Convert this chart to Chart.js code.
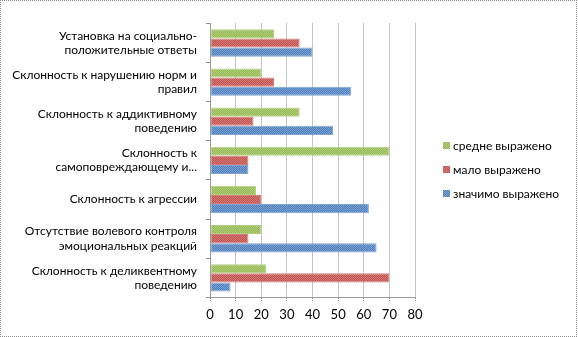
<!DOCTYPE html>
<html>
<head>
<meta charset="utf-8">
<script src="https://cdn.jsdelivr.net/npm/chart.js@4.4.1/dist/chart.umd.min.js"></script>
<style>
  html, body { margin: 0; padding: 0; background: #fff; }
  #wrap { position: relative; width: 578px; height: 337px; }
  #frame {
    position: absolute; left: 0; top: 0; width: 577px; height: 337px;
    box-sizing: border-box; border: 1px dotted #8a8a8a; pointer-events: none;
  }
  canvas { position: absolute; left: 0; top: 0; }
</style>
</head>
<body>
<div id="wrap">
  <canvas id="myChart" width="578" height="337"></canvas>
  <div id="frame"></div>
</div>
<script>
// categories, top to bottom
const categories = [
  ["Установка на социально-", "положительные ответы"],
  ["Склонность к нарушению норм и", "правил"],
  ["Склонность к аддиктивному", "поведению"],
  ["Склонность к", "самоповреждающему и..."],
  "Склонность к агрессии",
  ["Отсутствие волевого контроля", "эмоциональных реакций"],
  ["Склонность к деликвентному", "поведению"]
];

const seriesNames = ["средне выражено", "мало выражено", "значимо выражено"];
const medium = [25, 20, 35, 70, 18, 20, 22];
const low = [35, 25, 17, 15, 20, 15, 70];
const high = [40, 55, 48, 15, 62, 65, 8];

const xTicks = [0, 10, 20, 30, 40, 50, 60, 70, 80];

const baseColors = ["#93b84f", "#c0504d", "#4a7dbb"];
const lightColors = ["#b2cd7e", "#d47b78", "#7ea3d3"];

// small checker texture like the old office fills
function checker(dark, light) {
  const c = document.createElement("canvas");
  c.width = 2; c.height = 2;
  const g = c.getContext("2d");
  g.fillStyle = dark; g.fillRect(0, 0, 2, 2);
  g.fillStyle = light; g.fillRect(0, 0, 1, 1); g.fillRect(1, 1, 1, 1);
  return g.createPattern(c, "repeat");
}

const font = "Lato, 'Open Sans', sans-serif";

const datasets = [medium, low, high].map((vals, i) => ({
  label: seriesNames[i],
  data: vals,
  backgroundColor: checker(baseColors[i], lightColors[i]),
  borderColor: lightColors[i],
  borderWidth: 1,
  borderSkipped: false,
  categoryPercentage: 0.7,
  barPercentage: 1.0
}));

// legend on the right, drawn into the space kept free by layout.padding.right
const sideLegend = {
  id: "sideLegend",
  afterDraw(chart) {
    const ctx = chart.ctx;
    const x = chart.chartArea.right + 28;
    const step = 24;
    const n = chart.data.datasets.length;
    const y0 = chart.height / 2 - step * (n - 1) / 2;
    ctx.save();
    ctx.font = "12px " + font;
    ctx.textBaseline = "middle";
    ctx.textAlign = "left";
    chart.data.datasets.forEach((ds, i) => {
      const y = Math.round(y0 + i * step);
      ctx.fillStyle = ds.backgroundColor;
      ctx.fillRect(x, y - 3, 7, 7);
      ctx.fillStyle = "#000";
      ctx.fillText(ds.label, x + 10, y + 1);
    });
    ctx.restore();
  }
};

new Chart("myChart", {
  type: "bar",
  data: { labels: categories, datasets: datasets },
  plugins: [sideLegend],
  options: {
    indexAxis: "y",
    responsive: false,
    animation: false,
    devicePixelRatio: 1,
    layout: { padding: { top: 14, bottom: 8, left: 0, right: 163 } },
    plugins: {
      tooltip: { enabled: false },
      legend: { display: false }
    },
    scales: {
      x: {
        min: 0,
        max: 80,
        afterBuildTicks(scale) {
          scale.ticks = xTicks.map(v => ({ value: v }));
        },
        ticks: { font: { family: font, size: 13 }, color: "#000", padding: 6 },
        grid: {
          color: "#8c8c8c",
          tickColor: "#8c8c8c",
          tickLength: 4,
          tickBorderDash: [1, 1]
        },
        border: { color: "#9a9a9a", dash: [1, 1] }
      },
      y: {
        afterFit(scale) { scale.width = 210; },
        ticks: { font: { family: font, size: 12 }, color: "#000", padding: 9 },
        grid: {
          drawOnChartArea: false,
          tickLength: 4,
          tickColor: "#8c8c8c",
          offset: true
        },
        border: { color: "#9a9a9a" }
      }
    }
  }
});
</script>
</body>
</html>
